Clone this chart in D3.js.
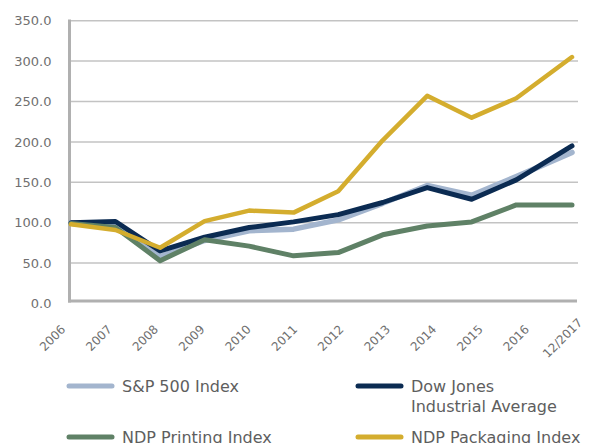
<!DOCTYPE html>
<html>
<head>
<meta charset="utf-8">
<script src="https://cdn.jsdelivr.net/npm/d3@7"></script>
<style>
  body { margin: 0; background: #fff; }
  svg text { font-family: "DejaVu Sans", sans-serif; }
</style>
</head>
<body>
<svg id="chart" width="590" height="443"></svg>
<script>
// category labels on the x axis
let yearLabels = ['2006', '2007', '2008', '2009', '2010', '2011', '2012', '2013', '2014', '2015', '2016', '12/2017'];
// period end of each point (fiscal year ends, then december 2017)
let periodEnd = ['2006-09-30', '2007-09-30', '2008-09-30', '2009-09-30', '2010-09-30', '2011-09-30',
	'2012-09-30', '2013-09-30', '2014-09-30', '2015-09-30', '2016-09-30', '2017-12-31'];

let sp500 = [100, 97, 58, 78, 90, 92, 103.5, 124, 146, 134, 157, 187];
let dowJones = [100, 101.5, 65, 82, 94, 101, 110, 125, 143.5, 129, 153, 195];
let printing = [99, 94, 53, 79, 71, 59, 63, 85, 96, 101, 122, 122];
let packaging = [98, 91, 69, 102, 115, 112.5, 139, 202, 257, 230, 254, 305];

let yTicks = [0, 50, 100, 150, 200, 250, 300, 350];

let seriesNames = ['S&P 500 Index', 'Dow Jones Industrial Average', 'NDP Printing Index', 'NDP Packaging Index'];
let seriesColors = ['#a3b5ce', '#0b2b52', '#5f8166', '#d4ad2e'];

let parseDate = d3.timeParse('%Y-%m-%d');
let dates = periodEnd.map(parseDate);

let svg = d3.select('#chart');

let x = d3.scaleTime()
	.domain(d3.extent(dates))
	.range([71, 572]);

let xLabel = d3.scalePoint()
	.domain(yearLabels)
	.range([52, 562]);

let y = d3.scaleLinear()
	.domain([0, 350])
	.range([303.5, 20.7]);

// gridlines
svg.append('g')
	.selectAll('line')
	.data(yTicks.filter(d => d > 0))
	.join('line')
	.attr('x1', 70)
	.attr('x2', 578)
	.attr('y1', d => y(d))
	.attr('y2', d => y(d))
	.attr('stroke', '#c3c3c3')
	.attr('stroke-width', 1.5);

// y axis labels
let yAxis = svg.append('g')
	.attr('transform', 'translate(69.5,0)')
	.call(d3.axisLeft(y).tickValues(yTicks).tickFormat(d3.format('.1f')).tickSize(0).tickPadding(18));
yAxis.select('.domain').remove();
yAxis.selectAll('text')
	.attr('fill', '#707070')
	.style('font-size', '13px');

// x axis labels
let xAxis = svg.append('g')
	.attr('transform', 'translate(0,301)')
	.call(d3.axisBottom(xLabel).tickSize(0));
xAxis.select('.domain').remove();
xAxis.selectAll('text')
	.attr('y', 0)
	.attr('dy', '0.35em')
	.attr('transform', 'translate(0,37) rotate(-45)')
	.attr('text-anchor', 'middle')
	.attr('fill', '#707070')
	.style('font-size', '12px');

// axis lines
svg.append('line')
	.attr('x1', 69.5).attr('x2', 69.5)
	.attr('y1', 19.5).attr('y2', 302.5)
	.attr('stroke', '#b0b0b0')
	.attr('stroke-width', 3);
svg.append('line')
	.attr('x1', 68).attr('x2', 577)
	.attr('y1', 301).attr('y2', 301)
	.attr('stroke', '#b0b0b0')
	.attr('stroke-width', 3);

// lines
let allSeries = [sp500, dowJones, printing, packaging];
let lineWidths = [5.5, 5, 5, 4.5];

let line = d3.line()
	.x((d, i) => x(dates[i]))
	.y(d => y(d));

svg.append('g')
	.selectAll('path')
	.data(allSeries)
	.join('path')
	.attr('d', d => line(d))
	.attr('fill', 'none')
	.attr('stroke', (d, i) => seriesColors[i])
	.attr('stroke-width', (d, i) => lineWidths[i])
	.attr('stroke-linejoin', 'round')
	.attr('stroke-linecap', 'round');

// legend
let legendX = [69, 358];
let legendY = [386, 437];

let legend = svg.append('g')
	.selectAll('g')
	.data(seriesNames)
	.join('g')
	.attr('transform', (d, i) => `translate(${legendX[i % 2]},${legendY[Math.floor(i / 2)]})`);

legend.append('line')
	.attr('x1', 0).attr('x2', 43)
	.attr('stroke', (d, i) => seriesColors[i])
	.attr('stroke-width', 5)
	.attr('stroke-linecap', 'round');

legend.append('text')
	.attr('x', 53)
	.attr('y', 6)
	.attr('fill', '#5e5e5e')
	.style('font-size', '16px')
	.each(function(d) {
		let t = d3.select(this);
		if (d.startsWith('Dow')) {
			t.append('tspan').attr('x', 53).text('Dow Jones');
			t.append('tspan').attr('x', 53).attr('dy', 20).text('Industrial Average');
		}
		else {
			t.text(d);
		}
	});
</script>
</body>
</html>
